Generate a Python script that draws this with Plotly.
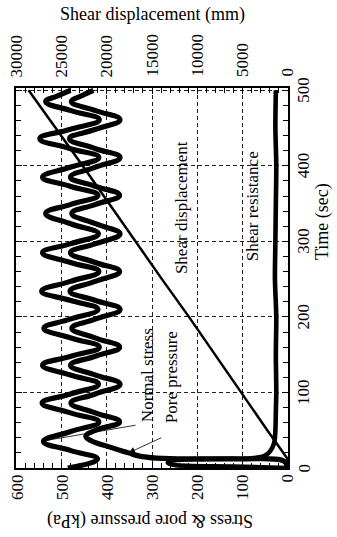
import plotly.graph_objects as go

# ---------------- data ----------------
# Normal stress (kPa) vs time (s)
t_ns = [0, 12, 23, 35, 48, 61, 73, 86, 98, 111, 123, 136, 148, 160, 172, 185, 197, 210,
        222, 234, 247, 260, 272, 285, 297, 310, 323, 337, 349, 361, 373, 385, 398, 411,
        423, 436, 448, 461, 473, 485, 493, 500]
ns = [487, 421, 480, 541, 482, 418, 481, 544, 481, 419, 481, 543, 480, 417, 480, 540, 482, 420,
      482, 545, 481, 418, 481, 543, 480, 419, 479, 536, 480, 420, 482, 543, 482, 418,
      483, 549, 483, 417, 480, 536, 508, 481]

# Pore pressure (kPa) vs time (s)
t_pp = [0, 6, 10, 12, 13, 16, 20, 28, 36, 42, 50, 61, 73, 86, 98, 111, 123, 136, 148, 160,
        172, 185, 197, 210, 222, 234, 247, 260, 272, 285, 297, 310, 323, 337, 349, 361,
        373, 385, 398, 411, 423, 436, 448, 461, 473, 485, 493, 500]
pp = [0, 2, 10, 120, 290, 330, 352, 395, 435, 447, 425, 372, 426, 480, 426, 371, 425, 481, 426, 372,
      425, 478, 426, 371, 427, 482, 426, 372, 426, 481, 425, 371, 424, 478, 425, 372,
      426, 481, 427, 371, 427, 483, 427, 371, 425, 479, 455, 430]

# Shear resistance (kPa) vs time (s)
t_sr = [0, 2, 4, 7, 10, 12, 13, 15, 18, 22, 28, 35, 50, 75, 100, 150, 200, 250, 300, 350, 400, 450, 500]
sr = [0, 120, 250, 265, 255, 180, 80, 55, 45, 38, 32, 28, 26, 25, 24, 25, 24, 27, 26, 25, 24, 26, 25]

# Shear displacement (mm) vs time (s)
t_sd = [0, 13, 50, 100, 150, 200, 250, 300, 350, 400, 450, 500]
sd = [0, 0, 2200, 5100, 8000, 10900, 13900, 16800, 19800, 22700, 25700, 28700]

stress_ticks = [0, 100, 200, 300, 400, 500, 600]
disp_ticks = [0, 5000, 10000, 15000, 20000, 25000, 30000]
time_ticks = [0, 100, 200, 300, 400, 500]

# ---------------- layout helpers ----------------
W, H = 337, 537
L, R, T, B = 16, 288, 88, 468
FONT = "Liberation Serif, Times New Roman, serif"


def px(xp):
    return (xp - L) / (R - L)


def py(yp):
    return (B - yp) / (B - T)


fig = go.Figure()

line_kw = dict(shape="spline", smoothing=1.3)
fig.add_trace(go.Scatter(x=ns, y=t_ns, mode="lines", line=dict(color="black", width=5.2, **line_kw),
                         name="Normal stress", showlegend=False))
fig.add_trace(go.Scatter(x=pp, y=t_pp, mode="lines", line=dict(color="black", width=5.2, **line_kw),
                         name="Pore pressure", showlegend=False))
fig.add_trace(go.Scatter(x=sr, y=t_sr, mode="lines", line=dict(color="black", width=4.6, shape="spline", smoothing=0.8),
                         name="Shear resistance", showlegend=False))
fig.add_trace(go.Scatter(x=sd, y=t_sd, xaxis="x2", mode="lines", line=dict(color="black", width=2.5),
                         name="Shear displacement", showlegend=False))

common = dict(ticks="inside", ticklen=6, tickwidth=1.2, tickcolor="black", showticklabels=False,
              showline=True, linecolor="black", linewidth=1.5, zeroline=False, automargin=False)
grid = dict(showgrid=True, gridcolor="#222", griddash="4px,3px", gridwidth=0.8)

fig.update_layout(
    width=W, height=H,
    margin=dict(l=L, r=W - R, t=T, b=H - B, pad=0, autoexpand=False),
    paper_bgcolor="white", plot_bgcolor="white",
    font=dict(family=FONT, color="black"),
    xaxis=dict(range=[602, -2], tickvals=stress_ticks,
               minor=dict(ticks="inside", dtick=20, ticklen=5, tickcolor="black", tickwidth=1),
               mirror=False, **common, **grid),
    xaxis2=dict(range=[30100, -100], overlaying="x", side="top", anchor="y",
                tickvals=disp_ticks,
                minor=dict(ticks="inside", dtick=1000, ticklen=5, tickcolor="black", tickwidth=1),
                showgrid=False, **common),
    yaxis=dict(range=[0, 503], side="right", tickvals=time_ticks,
               minor=dict(ticks="inside", dtick=20, ticklen=5, tickcolor="black", tickwidth=1),
               mirror="ticks", **common, **grid),
)

tick_font = dict(family=FONT, size=17, color="black")
ann_font = dict(family=FONT, size=17, color="black")
title_font = dict(family=FONT, size=18, color="black")
annotations = []
# tick labels (rotated like the reference)
for v in stress_ticks:
    annotations.append(dict(text=str(v), x=v, xref="x", y=py(472), yref="paper", yanchor="top",
                            xanchor="center", showarrow=False, textangle=-90, font=tick_font))
for v in disp_ticks:
    annotations.append(dict(text=str(v), x=v, xref="x2", y=py(79), yref="paper", yanchor="bottom",
                            xanchor="center", showarrow=False, textangle=-90, font=tick_font))
for v in time_ticks:
    annotations.append(dict(text=str(v), x=px(292), xref="paper", y=v, yref="y", xanchor="left",
                            yanchor="middle", showarrow=False, textangle=-90, font=tick_font))

cm = dict(xanchor="center", yanchor="middle", showarrow=False)
annotations += [
    dict(text="Shear displacement (mm)", xref="paper", yref="paper", x=px(152), y=py(15),
         font=title_font, **cm),
    dict(text="Stress & pore pressure (kPa)", xref="paper", yref="paper", x=px(150), y=py(521),
         textangle=180, font=title_font, **cm),
    dict(text="Time (sec)", xref="paper", yref="paper", x=px(322), y=py(222),
         textangle=-90, font=title_font, **cm),
    dict(text="Normal stress", x=311, y=123, textangle=-90, font=ann_font, **cm),
    dict(text="Pore pressure", x=256, y=120, textangle=-90, font=ann_font, **cm),
    dict(text="Shear displacement", x=234, y=345, textangle=-90, font=ann_font, **cm),
    dict(text="Shear resistance", x=77, y=347, textangle=-90, font=ann_font, **cm),
    # pointer lines
    dict(text="", x=530, y=37, ax=333, ay=57, axref="x", ayref="y", showarrow=True,
         arrowhead=0, arrowwidth=0.8, arrowcolor="black"),
    dict(text="", x=352, y=20, ax=276, ay=41, axref="x", ayref="y", showarrow=True,
         arrowhead=2, arrowsize=1.6, arrowwidth=0.8, arrowcolor="black"),
]
fig.update_layout(annotations=annotations)

fig.write_html("out.html", config={"displayModeBar": False},
               post_script="document.body.style.margin='0';document.body.style.padding='0';")
